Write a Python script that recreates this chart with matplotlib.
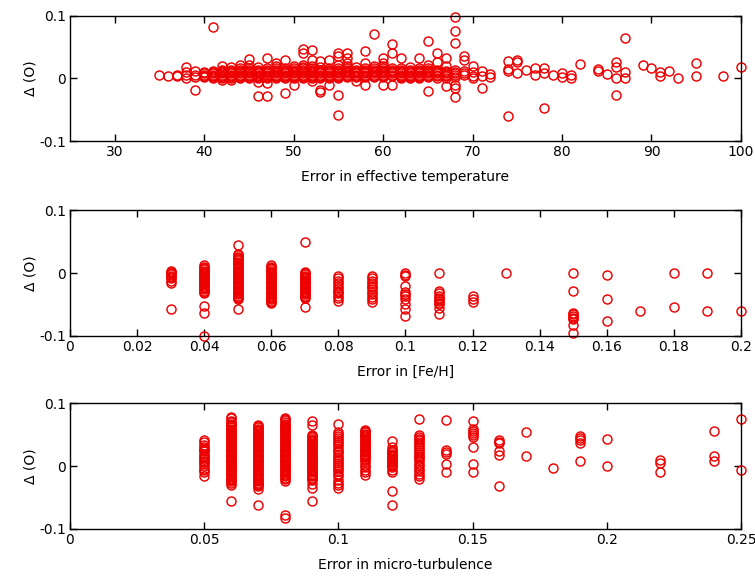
import matplotlib
matplotlib.use("Agg")
import matplotlib.pyplot as plt

# ---- panel 1: error in effective temperature ----
teff_cols = [35, 36, 37, 38, 39, 40, 41, 42, 43, 44, 45, 46, 47, 48, 49, 50,
             51, 52, 53, 54, 55, 56, 57, 58, 59, 60, 61, 62, 63, 64, 65, 66,
             67, 68, 69, 70, 71, 72, 74, 75, 76, 77, 78, 79, 80, 81, 82, 84,
             85, 86, 87, 89, 90, 91, 92, 93, 95, 98, 100]
teff_delta = [
    [0.005],
    [0.003],
    [0.003, 0.006],
    [0.018, 0.01, 0.005, 0.0],
    [0.012, 0.006, 0.002, -0.018],
    [0.01, 0.008, 0.006, 0.004, 0.002],
    [0.082, 0.012, 0.01, 0.008, 0.006, 0.004, 0.002, 0.0],
    [0.02, 0.014, 0.012, 0.01, 0.008, 0.006, 0.004, 0.002, 0.0, -0.002],
    [0.018, 0.014, 0.012, 0.01, 0.008, 0.006, 0.004, 0.002, 0.0, -0.002],
    [0.022, 0.016, 0.014, 0.012, 0.01, 0.008, 0.006, 0.004, 0.002, 0.0],
    [0.031, 0.022, 0.016, 0.014, 0.012, 0.01, 0.008, 0.006, 0.004, 0.002, 0.0],
    [0.018, 0.014, 0.012, 0.01, 0.008, 0.006, 0.004, 0.002, 0.0, -0.006, -0.028],
    [0.032, 0.016, 0.014, 0.012, 0.01, 0.008, 0.006, 0.004, 0.002, 0.0, -0.008,
     -0.028],
    [0.025, 0.02, 0.016, 0.014, 0.012, 0.01, 0.008, 0.006, 0.004, 0.002, 0.0],
    [0.03, 0.016, 0.014, 0.012, 0.01, 0.008, 0.006, 0.004, 0.002, 0.0, -0.024],
    [0.02, 0.016, 0.014, 0.012, 0.01, 0.008, 0.006, 0.004, 0.002, 0.0, -0.01],
    [0.046, 0.04, 0.022, 0.018, 0.016, 0.014, 0.012, 0.01, 0.008, 0.006, 0.004,
     0.002, 0.0],
    [0.045, 0.03, 0.02, 0.016, 0.014, 0.012, 0.01, 0.008, 0.006, 0.004, 0.002,
     0.0, -0.004],
    [0.028, 0.018, 0.014, 0.012, 0.01, 0.008, 0.006, 0.004, 0.002, 0.0, -0.018,
     -0.022],
    [0.03, 0.016, 0.014, 0.012, 0.01, 0.008, 0.006, 0.004, 0.002, 0.0, -0.01],
    [0.04, 0.035, 0.022, 0.016, 0.014, 0.012, 0.01, 0.008, 0.006, 0.004, 0.002,
     0.0, -0.026, -0.058],
    [0.04, 0.032, 0.025, 0.02, 0.016, 0.014, 0.012, 0.01, 0.008, 0.006, 0.004,
     0.002],
    [0.018, 0.014, 0.012, 0.01, 0.008, 0.006, 0.004, 0.002, -0.004],
    [0.043, 0.025, 0.016, 0.014, 0.012, 0.01, 0.008, 0.006, 0.004, 0.002, -0.01],
    [0.071, 0.02, 0.016, 0.014, 0.012, 0.01, 0.008, 0.006, 0.004, 0.002],
    [0.032, 0.025, 0.02, 0.016, 0.014, 0.012, 0.01, 0.008, 0.006, 0.004, 0.002,
     -0.01],
    [0.054, 0.04, 0.016, 0.014, 0.012, 0.01, 0.008, 0.006, 0.004, -0.01],
    [0.032, 0.016, 0.014, 0.012, 0.01, 0.008, 0.006, 0.004, 0.002, 0.0],
    [0.018, 0.014, 0.012, 0.01, 0.008, 0.006, 0.004, 0.002, 0.0],
    [0.032, 0.016, 0.014, 0.012, 0.01, 0.008, 0.006, 0.004, 0.002, 0.0],
    [0.059, 0.022, 0.016, 0.014, 0.012, 0.01, 0.008, 0.006, 0.004, 0.002,
     -0.02],
    [0.04, 0.026, 0.014, 0.012, 0.01, 0.008, 0.006, 0.004, 0.0],
    [0.032, 0.02, 0.012, 0.01, 0.008, 0.006, 0.004, 0.0, -0.013],
    [0.098, 0.075, 0.057, 0.014, 0.01, 0.008, 0.006, 0.002, -0.01, -0.016,
     -0.03],
    [0.035, 0.03, 0.012, 0.008, 0.006],
    [0.019, 0.01, 0.004, 0.0],
    [0.011, 0.004, -0.016],
    [0.007, 0.002],
    [0.027, 0.015, 0.011, -0.06],
    [0.03, 0.026, 0.008],
    [0.013],
    [0.016, 0.006],
    [0.016, 0.008, -0.047],
    [0.005],
    [0.008, 0.002],
    [0.006, 0.0],
    [0.023],
    [0.015, 0.012],
    [0.007],
    [0.026, 0.018, 0.0, -0.027],
    [0.065, 0.01, 0.001],
    [0.021],
    [0.016],
    [0.01, 0.003],
    [0.012],
    [0.0],
    [0.025, 0.003],
    [0.004],
    [0.018],
]

# ---- panel 2: error in [Fe/H] ----
feh_cols = [0.03, 0.04, 0.05, 0.06, 0.07, 0.08, 0.09, 0.10, 0.11, 0.12, 0.13,
            0.15, 0.16, 0.17, 0.18, 0.19, 0.20]
feh_delta = [
    [0.004, 0.002, 0.0, -0.002, -0.004, -0.006, -0.008, -0.012, -0.016,
     -0.058],
    [0.012, 0.01, 0.008, 0.006, 0.004, 0.002, 0.0, -0.002, -0.004, -0.006,
     -0.008, -0.01, -0.012, -0.014, -0.016, -0.018, -0.02, -0.022, -0.024,
     -0.026, -0.028, -0.03, -0.032, -0.053, -0.063, -0.1],
    [0.044, 0.03, 0.028, 0.026, 0.024, 0.022, 0.02, 0.018, 0.016, 0.014,
     0.012, 0.01, 0.008, 0.006, 0.004, 0.002, 0.0, -0.002, -0.004, -0.006,
     -0.008, -0.01, -0.012, -0.014, -0.016, -0.018, -0.02, -0.022, -0.024,
     -0.026, -0.028, -0.03, -0.032, -0.034, -0.036, -0.038, -0.04, -0.042,
     -0.057],
    [0.012, 0.01, 0.008, 0.006, 0.004, 0.002, 0.0, -0.002, -0.004, -0.006,
     -0.008, -0.01, -0.012, -0.014, -0.016, -0.018, -0.02, -0.022, -0.024,
     -0.026, -0.028, -0.03, -0.032, -0.034, -0.036, -0.038, -0.04, -0.042,
     -0.044, -0.046, -0.048],
    [0.049, 0.002, 0.0, -0.002, -0.004, -0.006, -0.008, -0.01, -0.012, -0.014,
     -0.016, -0.018, -0.02, -0.022, -0.024, -0.026, -0.028, -0.03, -0.032,
     -0.034, -0.036, -0.038, -0.04, -0.054],
    [-0.004, -0.008, -0.012, -0.016, -0.02, -0.024, -0.028, -0.03, -0.032,
     -0.036, -0.04, -0.045],
    [-0.004, -0.008, -0.012, -0.016, -0.02, -0.022, -0.026, -0.03, -0.034,
     -0.038, -0.042, -0.046],
    [0.0, -0.003, -0.005, -0.02, -0.03, -0.033, -0.036, -0.041, -0.049,
     -0.057, -0.068],
    [0.0, -0.028, -0.032, -0.036, -0.04, -0.042, -0.045, -0.048, -0.05,
     -0.055, -0.065],
    [-0.037, -0.042, -0.046],
    [0.0],
    [0.0, -0.029, -0.064, -0.066, -0.069, -0.071, -0.073, -0.083, -0.096],
    [-0.003, -0.042, -0.077],
    [-0.061],
    [0.0, -0.054],
    [0.0, -0.061],
    [-0.061],
]

# ---- panel 3: error in micro-turbulence ----
vt_cols = [0.05, 0.06, 0.07, 0.08, 0.09, 0.10, 0.11, 0.12, 0.13, 0.14, 0.15,
           0.16, 0.17, 0.18, 0.19, 0.20, 0.22, 0.24, 0.25]
vt_delta = [
    [0.042, 0.038, 0.034, 0.03, 0.028, 0.026, 0.024, 0.02, 0.016, 0.014,
     0.012, 0.008, 0.006, 0.004, 0.0, -0.004, -0.006, -0.01, -0.016],
    [0.078, 0.076, 0.072, 0.07, 0.068, 0.066, 0.064, 0.062, 0.06, 0.058,
     0.056, 0.054, 0.052, 0.05, 0.048, 0.046, 0.044, 0.042, 0.04, 0.038,
     0.036, 0.034, 0.032, 0.03, 0.028, 0.026, 0.024, 0.022, 0.02, 0.018,
     0.016, 0.014, 0.012, 0.01, 0.008, 0.006, 0.004, 0.002, 0.0, -0.002,
     -0.004, -0.006, -0.008, -0.01, -0.012, -0.014, -0.016, -0.018, -0.02,
     -0.022, -0.024, -0.026, -0.03, -0.055],
    [0.066, 0.064, 0.062, 0.06, 0.058, 0.056, 0.054, 0.052, 0.05, 0.048,
     0.046, 0.044, 0.042, 0.04, 0.038, 0.036, 0.034, 0.032, 0.03, 0.028,
     0.026, 0.024, 0.022, 0.02, 0.018, 0.016, 0.014, 0.012, 0.01, 0.008,
     0.006, 0.004, 0.002, 0.0, -0.002, -0.004, -0.006, -0.008, -0.01,
     -0.012, -0.014, -0.016, -0.018, -0.02, -0.022, -0.024, -0.026, -0.028,
     -0.03, -0.032, -0.036, -0.062],
    [0.077, 0.075, 0.073, 0.07, 0.068, 0.066, 0.064, 0.062, 0.06, 0.058,
     0.056, 0.054, 0.052, 0.05, 0.048, 0.046, 0.044, 0.042, 0.04, 0.038,
     0.036, 0.034, 0.032, 0.03, 0.028, 0.026, 0.024, 0.022, 0.02, 0.018,
     0.016, 0.014, 0.012, 0.01, 0.008, 0.006, 0.004, 0.002, 0.0, -0.002,
     -0.004, -0.006, -0.008, -0.01, -0.012, -0.014, -0.016, -0.018, -0.02,
     -0.024, -0.078, -0.082],
    [0.072, 0.065, 0.05, 0.048, 0.046, 0.044, 0.042, 0.04, 0.038, 0.036,
     0.034, 0.032, 0.03, 0.028, 0.026, 0.024, 0.022, 0.02, 0.018, 0.016,
     0.014, 0.012, 0.01, 0.008, 0.006, 0.004, 0.002, 0.0, -0.002, -0.004,
     -0.006, -0.008, -0.01, -0.012, -0.014, -0.016, -0.018, -0.02, -0.022,
     -0.028, -0.034, -0.055],
    [0.067, 0.055, 0.052, 0.048, 0.045, 0.042, 0.038, 0.035, 0.032, 0.028,
     0.025, 0.022, 0.018, 0.015, 0.012, 0.008, 0.005, 0.002, -0.002, -0.005,
     -0.008, -0.012, -0.016, -0.022, -0.026, -0.03, -0.034],
    [0.058, 0.056, 0.054, 0.052, 0.05, 0.048, 0.046, 0.044, 0.042, 0.04,
     0.038, 0.036, 0.034, 0.032, 0.03, 0.028, 0.026, 0.024, 0.022, 0.02,
     0.018, 0.016, 0.014, 0.012, 0.01, 0.006, 0.002, -0.002, -0.006, -0.01,
     -0.014],
    [0.04, 0.03, 0.026, 0.024, 0.022, 0.02, 0.018, 0.016, 0.014, 0.012, 0.01,
     0.008, 0.006, 0.004, 0.002, 0.0, -0.002, -0.006, -0.01, -0.04, -0.062],
    [0.075, 0.05, 0.047, 0.044, 0.041, 0.038, 0.035, 0.032, 0.029, 0.026,
     0.023, 0.02, 0.017, 0.014, 0.011, 0.008, 0.004, 0.0, -0.004, -0.008,
     -0.012, -0.016, -0.02],
    [0.073, 0.026, 0.023, 0.02, 0.004, -0.009],
    [0.072, 0.06, 0.056, 0.053, 0.05, 0.047, 0.031, 0.004, -0.009],
    [0.042, 0.039, 0.037, 0.024, 0.018, -0.031],
    [0.054, 0.016],
    [-0.003],
    [0.048, 0.045, 0.042, 0.037, 0.009],
    [0.043, 0.001],
    [0.01, 0.005, -0.01],
    [0.056, 0.017, 0.008],
    [0.075, -0.006],
]

teff_ticks = [30, 40, 50, 60, 70, 80, 90, 100]
teff_ticklabels = ["30", "40", "50", "60", "70", "80", "90", "100"]
feh_ticks = [0, 0.02, 0.04, 0.06, 0.08, 0.1, 0.12, 0.14, 0.16, 0.18, 0.2]
feh_ticklabels = ["0", "0.02", "0.04", "0.06", "0.08", "0.1", "0.12", "0.14",
                  "0.16", "0.18", "0.2"]
vt_ticks = [0, 0.05, 0.1, 0.15, 0.2, 0.25]
vt_ticklabels = ["0", "0.05", "0.1", "0.15", "0.2", "0.25"]
y_ticks = [-0.1, 0, 0.1]
y_ticklabels = ["-0.1", "0", "0.1"]


def flatten(cols, vals):
    xs, ys = [], []
    for c, v in zip(cols, vals):
        xs.extend([c] * len(v))
        ys.extend(v)
    return xs, ys


plt.rcParams["font.family"] = "DejaVu Sans"
plt.rcParams["font.size"] = 10

fig = plt.figure(figsize=(7.55, 5.76), dpi=100)

panels = [
    (teff_cols, teff_delta, (25, 100), teff_ticks, teff_ticklabels,
     "Error in effective temperature", 0.755),
    (feh_cols, feh_delta, (0, 0.2), feh_ticks, feh_ticklabels,
     "Error in [Fe/H]", 0.417),
    (vt_cols, vt_delta, (0, 0.25), vt_ticks, vt_ticklabels,
     "Error in micro-turbulence", 0.0816),
]

for cols, vals, xlim, ticks, labels, xlabel, bottom in panels:
    ax = fig.add_axes([0.0927, bottom, 0.8887, 0.218])
    xs, ys = flatten(cols, vals)
    ax.plot(xs, ys, "o", markersize=6.5, markerfacecolor="none",
            markeredgecolor="#ee0000", markeredgewidth=1.05, clip_on=False)
    ax.set_xlim(*xlim)
    ax.set_ylim(-0.1, 0.1)
    ax.set_xticks(ticks)
    ax.set_xticklabels(labels)
    ax.set_yticks(y_ticks)
    ax.set_yticklabels(y_ticklabels)
    ax.tick_params(direction="in", top=True, right=True, length=5, width=1,
                   pad=3)
    for sp in ax.spines.values():
        sp.set_linewidth(1.0)
    ax.set_xlabel(xlabel, labelpad=8)
    ax.set_ylabel("\u0394 (O)", labelpad=1)

fig.savefig("out.png", dpi=100)
